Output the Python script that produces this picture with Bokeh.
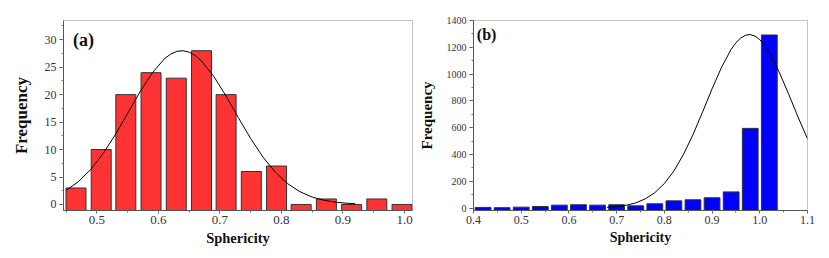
from bokeh.plotting import figure
from bokeh.layouts import row
from bokeh.models import SingleIntervalTicker, NumeralTickFormatter, Label, Range1d
from bokeh.embed import file_html
from bokeh.resources import INLINE

# ---------------- data ----------------
# Panel (a)
a_bin_centers = [0.466, 0.507, 0.547, 0.588, 0.629, 0.670, 0.710, 0.751,
                 0.792, 0.832, 0.873, 0.914, 0.955, 0.996]
a_counts = [3, 10, 20, 24, 23, 28, 20, 6, 7, 0, 1, 0, 1, 0]
a_fit_x = [0.45, 0.47, 0.49, 0.51, 0.53, 0.55, 0.57, 0.59, 0.61, 0.62, 0.63, 0.64,
           0.65, 0.66, 0.67, 0.69, 0.71, 0.73, 0.75, 0.77, 0.79, 0.81, 0.83, 0.85,
           0.87, 0.89, 0.91, 0.92]
a_fit_y = [2.57, 4.16, 6.37, 9.25, 12.73, 16.59, 20.49, 23.96, 26.56, 27.39, 27.88, 28.0,
           27.73, 27.10, 26.13, 23.32, 19.72, 15.80, 11.99, 8.62, 5.87, 3.79, 2.32, 1.34,
           0.74, 0.38, 0.19, 0.13]

# Panel (b)
b_bin_centers = [0.42, 0.46, 0.50, 0.54, 0.58, 0.62, 0.66, 0.70,
                 0.74, 0.78, 0.82, 0.86, 0.90, 0.94, 0.98, 1.02]
b_counts = [5, 3, 7, 12, 22, 25, 22, 25, 17, 32, 54, 62, 77, 121, 595, 1292]
b_fit_x = [0.68, 0.70, 0.72, 0.74, 0.76, 0.78, 0.80, 0.82, 0.84, 0.86, 0.88, 0.90,
           0.92, 0.94, 0.95, 0.96, 0.97, 0.98, 0.99, 1.00, 1.01, 1.02, 1.04, 1.06,
           1.08, 1.10]
b_fit_y = [5, 11, 21, 39, 69, 115, 183, 277, 400, 548, 716, 890,
           1052, 1185, 1234, 1269, 1290, 1295, 1284, 1257, 1216, 1161, 1021, 855,
           681, 517]

x_label = "Sphericity"
y_label = "Frequency"

SERIF = "Liberation Serif"


def style(p, xl_size, yl_size, xt_size, yt_size, yl_standoff):
    p.outline_line_color = "#c4c4c4"
    p.outline_line_width = 1
    p.xgrid.visible = False
    p.ygrid.visible = False
    p.background_fill_color = "white"
    p.border_fill_color = "white"
    for ax in (p.xaxis[0], p.yaxis[0]):
        ax.axis_line_color = "#555555"
        ax.major_tick_line_color = "#555555"
        ax.minor_tick_line_color = "#777777"
        ax.major_tick_in = 0
        ax.major_tick_out = 4
        ax.minor_tick_in = 0
        ax.minor_tick_out = 2
        ax.major_label_text_font = SERIF
        ax.major_label_text_color = "#333333"
        ax.axis_label_text_font = SERIF
        ax.axis_label_text_font_style = "bold"
        ax.axis_label_text_color = "#111111"
    p.xaxis[0].major_tick_out = 3
    p.xaxis[0].major_label_standoff = 2
    p.yaxis[0].major_label_standoff = 3
    p.xaxis[0].axis_label_standoff = 3
    p.yaxis[0].axis_label_standoff = yl_standoff
    p.xaxis[0].axis_label_text_font_size = xl_size
    p.yaxis[0].axis_label_text_font_size = yl_size
    p.xaxis[0].major_label_text_font_size = xt_size
    p.yaxis[0].major_label_text_font_size = yt_size


# ---------------- panel (a) ----------------
a_y0 = -1.1
pa = figure(width=415, height=250, output_backend="svg",
            toolbar_location=None, x_range=Range1d(0.4457, 1.013),
            y_range=Range1d(a_y0, 33.5), x_axis_label=x_label, y_axis_label=y_label,
            min_border_left=63, min_border_right=3, min_border_top=19,
            min_border_bottom=40)
pa.vbar(x=a_bin_centers, top=a_counts, bottom=a_y0, width=0.0325,
        fill_color="#ff3333", line_color="#333333", line_width=1)
pa.line(a_fit_x, a_fit_y, line_color="black", line_width=1)
pa.xaxis[0].ticker = SingleIntervalTicker(interval=0.1, num_minor_ticks=2)
pa.xaxis[0].formatter = NumeralTickFormatter(format="0.0")
pa.yaxis[0].ticker = SingleIntervalTicker(interval=5, num_minor_ticks=2)
style(pa, "14.5px", "17px", "13px", "12px", 11)
pa.add_layout(Label(x=0.461, y=29.9, text="(a)", text_font=SERIF,
                    text_font_style="bold", text_font_size="18px",
                    text_baseline="middle", text_align="left", text_color="#111111"))

# ---------------- panel (b) ----------------
b_y0 = -18
pb = figure(width=406, height=250, output_backend="svg",
            toolbar_location=None, x_range=Range1d(0.4, 1.1),
            y_range=Range1d(b_y0, 1400), x_axis_label=x_label, y_axis_label=y_label,
            min_border_left=53, min_border_right=14, min_border_top=20,
            min_border_bottom=40)
pb.vbar(x=b_bin_centers, top=b_counts, bottom=b_y0, width=0.0331,
        fill_color="#0000ff", line_color="#333333", line_width=1)
pb.line(b_fit_x, b_fit_y, line_color="black", line_width=1)
pb.xaxis[0].ticker = SingleIntervalTicker(interval=0.1, num_minor_ticks=2)
pb.xaxis[0].formatter = NumeralTickFormatter(format="0.0")
pb.yaxis[0].ticker = SingleIntervalTicker(interval=200, num_minor_ticks=2)
style(pb, "14px", "15px", "12px", "10px", 9)
pb.add_layout(Label(x=0.407, y=1294, text="(b)", text_font=SERIF,
                    text_font_style="bold", text_font_size="16px",
                    text_baseline="middle", text_align="left", text_color="#111111"))

layout = row(pa, pb)
open("out.html", "w").write(file_html(layout, INLINE))
